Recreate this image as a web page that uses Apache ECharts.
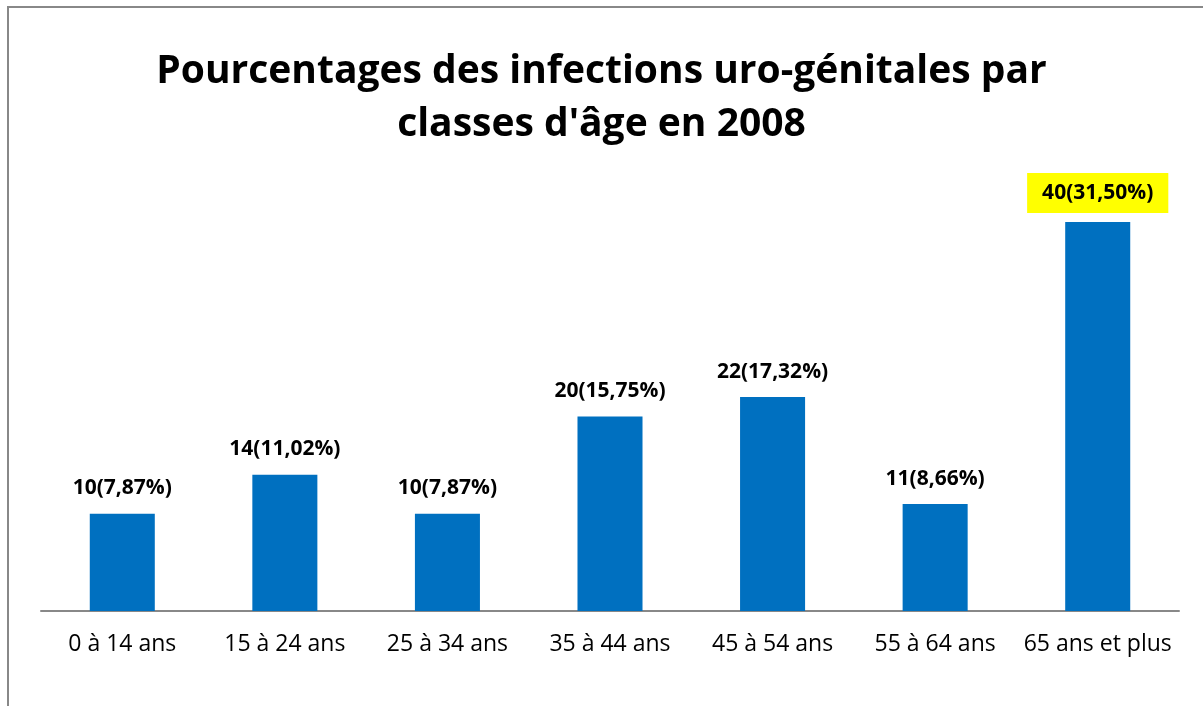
<!DOCTYPE html>
<html>
<head>
<meta charset="utf-8">
<script src="https://cdn.jsdelivr.net/npm/echarts@6/dist/echarts.min.js"></script>
<style>
    html, body { margin: 0; padding: 0; background: #fff; }
    #main { width: 1203px; height: 706px; }
</style>
</head>
<body>
<div id="main"></div>
<script>
//données
var categories = ['0 à 14 ans', '15 à 24 ans', '25 à 34 ans', '35 à 44 ans', '45 à 54 ans', '55 à 64 ans', '65 ans et plus'];
var counts = [10, 14, 10, 20, 22, 11, 40];
var percents = ['7,87%', '11,02%', '7,87%', '15,75%', '17,32%', '8,66%', '31,50%'];
var highlightIndex = 6;

var fontFamily = '"Open Sans", "Noto Sans", sans-serif';

function drawChart() {
    var dom = document.getElementById('main');
    var myChart = echarts.init(dom);

    var seriesData = counts.map(function (v, i) {
        var item = { value: v };
        if (i === highlightIndex) {
            // étiquette surlignée en jaune
            item.label = {
                backgroundColor: '#ffff00',
                padding: [10, 15, 9, 15],
                distance: 9
            };
        }
        return item;
    });

    var option = {
        animation: false,
        title: {
            text: 'Pourcentages des infections uro-génitales par\nclasses d\'âge en 2008',
            left: 'center',
            top: 40,
            textStyle: {
                fontFamily: fontFamily,
                fontWeight: 'bold',
                fontSize: 39,
                lineHeight: 53,
                color: '#000'
            }
        },
        graphic: [{
            type: 'rect',
            shape: { x: 8, y: 7, width: 1300, height: 800 },
            style: { fill: 'none', stroke: '#888', lineWidth: 2 },
            silent: true
        }],
        grid: {
            left: 41,
            right: 24,
            top: 222,
            bottom: 95
        },
        xAxis: {
            type: 'category',
            data: categories,
            axisTick: { show: false },
            axisLine: { lineStyle: { color: '#888', width: 2 } },
            axisLabel: {
                interval: 0,
                hideOverlap: false,
                margin: 22,
                fontFamily: fontFamily,
                fontSize: 23,
                color: '#000'
            }
        },
        yAxis: {
            type: 'value',
            min: 0,
            max: 40,
            show: false
        },
        series: [{
            type: 'bar',
            barWidth: '40%',
            itemStyle: { color: '#0070c0' },
            label: {
                show: true,
                position: 'top',
                distance: 15,
                fontFamily: fontFamily,
                fontWeight: 'bold',
                fontSize: 21,
                color: '#000',
                formatter: function (p) {
                    return counts[p.dataIndex] + '(' + percents[p.dataIndex] + ')';
                }
            },
            data: seriesData
        }]
    };
    myChart.setOption(option, true);
}
drawChart();
</script>
</body>
</html>
